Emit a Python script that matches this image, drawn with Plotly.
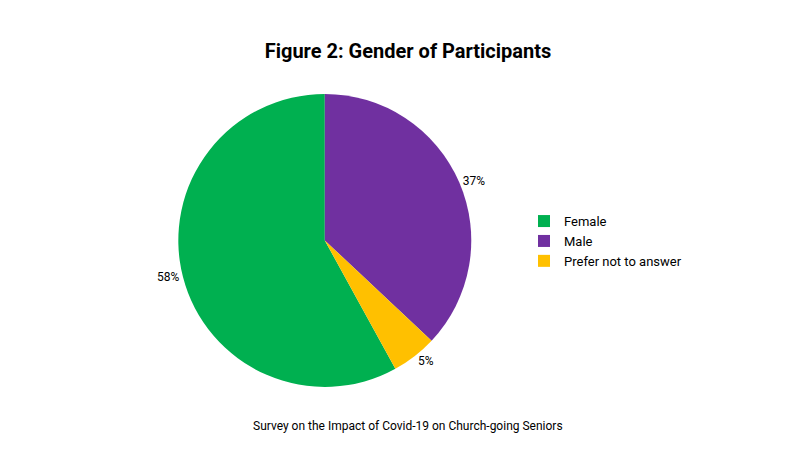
import plotly.graph_objects as go

labels = ["Female", "Male", "Prefer not to answer"]
values = [58, 37, 5]
colors = ["#00B050", "#7030A0", "#FFC000"]

title_text = "<b>Figure 2: Gender of Participants</b>"
subtitle_text = "Survey on the Impact of Covid-19 on Church-going Seniors"

# first slice (Female) starts where the other slices end, so Male sits at 12 o'clock
start_angle = 360 * (1 - values[0] / sum(values))

fig = go.Figure(
    go.Pie(
        labels=labels,
        values=values,
        sort=False,
        direction="clockwise",
        rotation=start_angle,
        marker=dict(colors=colors, line=dict(width=0)),
        textinfo="percent",
        textposition="outside",
        textfont=dict(size=12, color="#000000"),
        domain=dict(x=[0.212, 0.580], y=[0.158, 0.809]),
        hoverinfo="label+percent",
    )
)

fig.update_layout(
    width=800,
    height=450,
    paper_bgcolor="white",
    plot_bgcolor="white",
    margin=dict(l=0, r=0, t=0, b=0),
    font=dict(family="Roboto, Arial", color="#000000"),
    title=dict(text=title_text, x=0.5, xanchor="center", y=0.905, yanchor="middle",
               font=dict(size=20, color="#000000")),
    legend=dict(x=0.645, y=0.482, xanchor="left", yanchor="middle",
                font=dict(size=13, color="#000000"), itemwidth=30, tracegroupgap=0,
                itemsizing="constant"),
    annotations=[
        dict(text=subtitle_text, x=0.5, y=1 - 418 / 450, xref="paper", yref="paper",
             showarrow=False, xanchor="center", yanchor="middle",
             font=dict(size=12, color="#000000"))
    ],
)

fig.write_html("out.html")
